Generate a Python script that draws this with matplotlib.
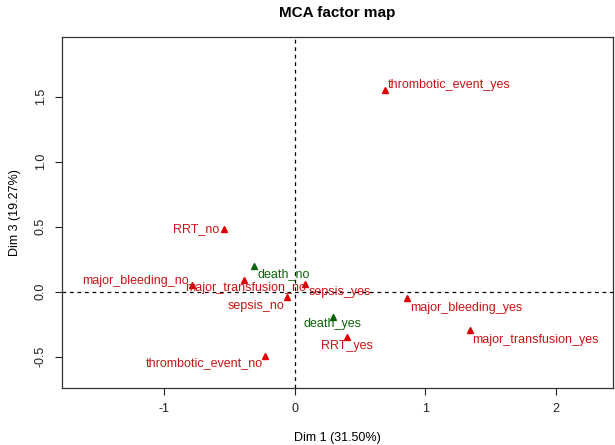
import matplotlib
matplotlib.use("Agg")
import matplotlib.pyplot as plt

plt.rcParams['font.family'] = ['Liberation Sans', 'DejaVu Sans']

# Active categories (red)
act_labels = ["thrombotic_event_yes", "RRT_no", "major_bleeding_no", "major_transfusion_no",
              "sepsis_yes", "sepsis_no", "major_bleeding_yes", "RRT_yes",
              "major_transfusion_yes", "thrombotic_event_no"]
act_dim1 = [0.69, -0.54, -0.79, -0.39, 0.08, -0.06, 0.86, 0.40, 1.34, -0.23]
act_dim3 = [1.55, 0.48, 0.05, 0.09, 0.06, -0.04, -0.05, -0.35, -0.29, -0.49]

# Supplementary categories (green)
sup_labels = ["death_no", "death_yes"]
sup_dim1 = [-0.31, 0.29]
sup_dim3 = [0.20, -0.19]

xticks = [-1, 0, 1, 2]
yticks = [-0.5, 0.0, 0.5, 1.0, 1.5]

# label placement (offset in pixels, horizontal alignment)
act_off = [((3, 5), 'left'), ((-5, 0), 'right'), ((-3, 4), 'right'), ((2, -8), 'center'),
           ((3, -8), 'left'), ((-3, -9), 'right'), ((3, -10), 'left'), ((0, -9), 'center'),
           ((3, -10), 'left'), ((-2, -8), 'right')]
sup_off = [((3, -8), 'left'), ((0, -8), 'center')]

RED_M = '#E00000'
RED_T = '#C81414'
GREEN = '#0A640A'

fig = plt.figure(figsize=(6.15, 4.45), dpi=100)
ax = fig.add_axes([62/615, 57/445, 551/615, 351/445])
ax.set_xlim(-1.785, 2.44)
ax.set_ylim(-0.74, 1.96)

ax.axhline(0, color='black', lw=0.9, ls=(0, (3, 3)))
ax.axvline(0, color='black', lw=0.9, ls=(0, (3, 3)))

ax.plot(act_dim1, act_dim3, ls='none', marker='^', ms=5, color=RED_M)
ax.plot(sup_dim1, sup_dim3, ls='none', marker='^', ms=5, color=GREEN)

px = 72 / 100
for lab, x, y, (off, ha) in zip(act_labels, act_dim1, act_dim3, act_off):
    ax.annotate(lab, (x, y), xytext=(off[0]*px, off[1]*px), textcoords='offset points',
                ha=ha, va='center', color=RED_T, fontsize=9)
for lab, x, y, (off, ha) in zip(sup_labels, sup_dim1, sup_dim3, sup_off):
    ax.annotate(lab, (x, y), xytext=(off[0]*px, off[1]*px), textcoords='offset points',
                ha=ha, va='center', color=GREEN, fontsize=9)

ax.set_xticks(xticks)
ax.set_xticklabels([str(t) for t in xticks])
ax.set_yticks(yticks)
ax.set_yticklabels([f"{t:.1f}" for t in yticks], rotation=90, va='center')
ax.tick_params(direction='out', length=5, width=0.8, labelsize=9, pad=6, colors='#222222')
for s in ax.spines.values():
    s.set_linewidth(0.9)
    s.set_color('#333333')

ax.set_xlabel("Dim 1 (31.50%)", fontsize=9, labelpad=12)
ax.set_ylabel("Dim 3 (19.27%)", fontsize=9, labelpad=10)
fig.text((62 + 551/2)/615, 1 - 13/445, "MCA factor map", ha='center', va='center',
         fontsize=11, fontweight='bold')

fig.savefig("out.png", dpi=100)
